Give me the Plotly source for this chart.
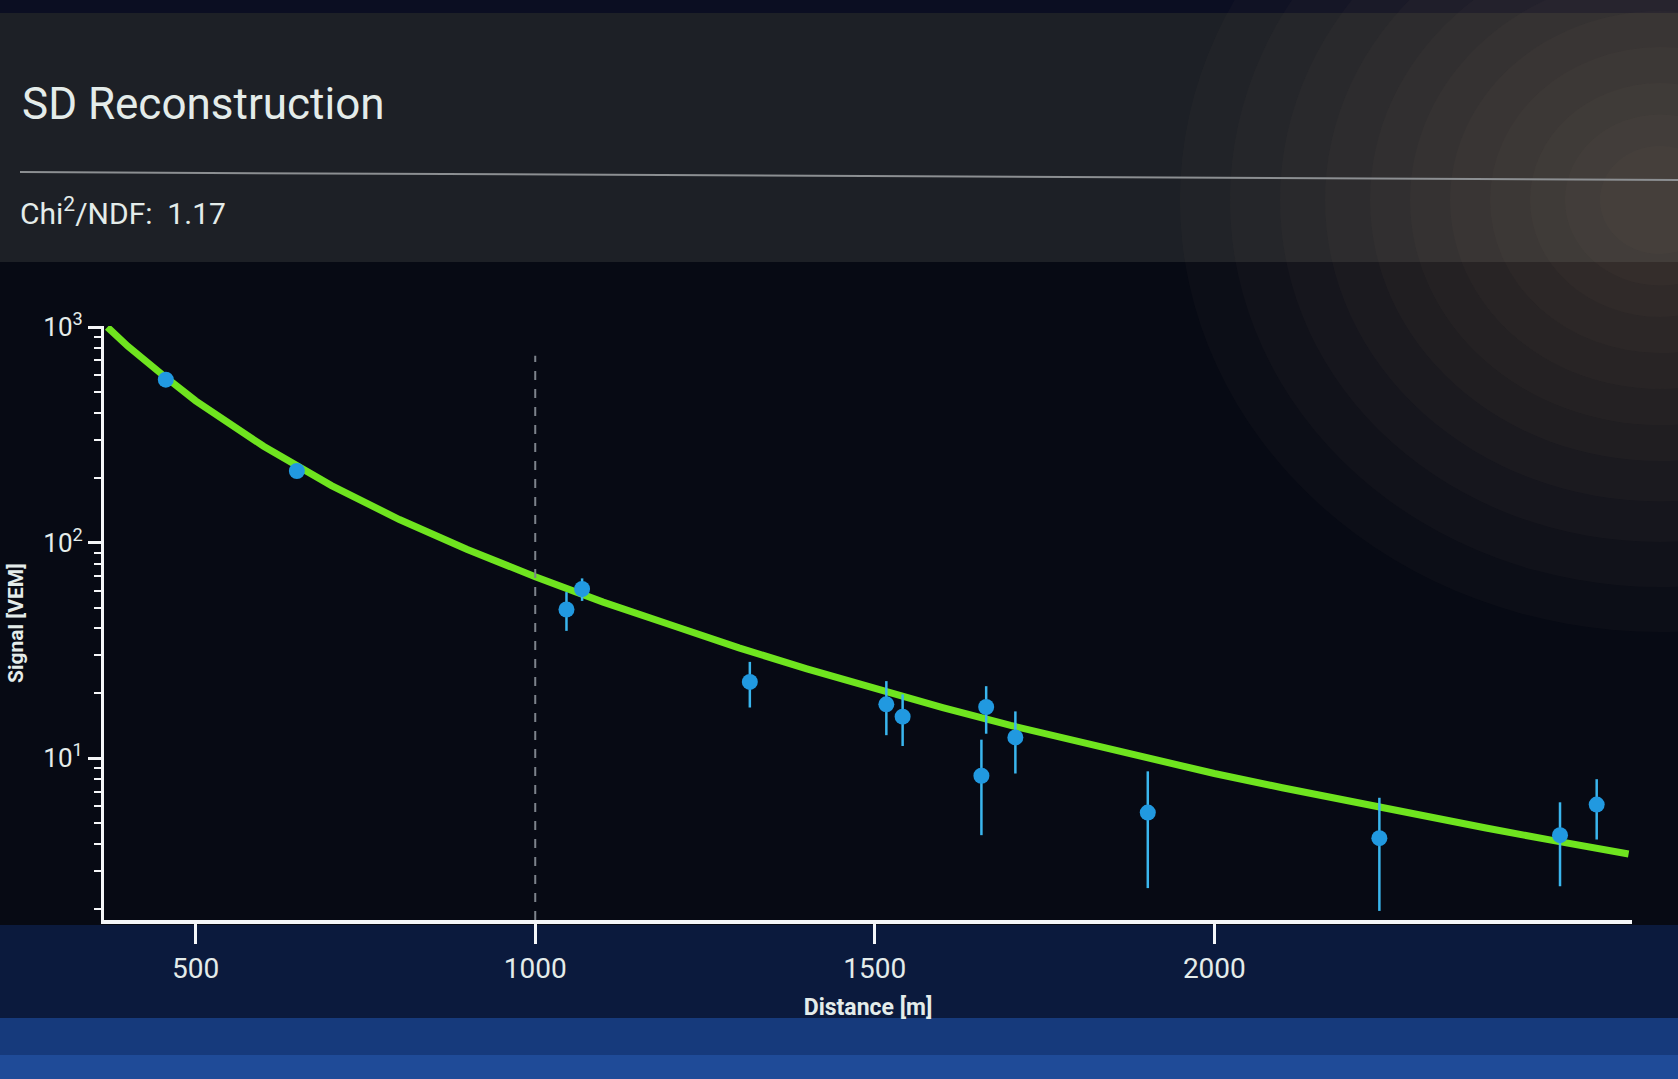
import plotly.graph_objects as go

# ---- data ----
distance = [456, 649, 1046, 1069, 1316, 1517, 1541, 1657, 1664, 1707, 1902, 2243, 2509, 2563]
signal = [570, 215, 49, 61, 22.6, 17.8, 15.6, 8.3, 17.3, 12.5, 5.6, 4.26, 4.4, 6.1]
signal_err = [40, 15, 10, 7.3, 5.4, 5.0, 4.2, 3.9, 4.3, 4.0, 3.1, 2.3, 1.85, 1.9]

fit_distance = [370, 400, 450, 500, 600, 700, 800, 900, 1000, 1100, 1200, 1300, 1400,
                1500, 1600, 1700, 1800, 1900, 2000, 2100, 2200, 2300, 2400, 2500, 2610]
fit_signal = [1000, 815, 605, 455, 280, 184, 128, 93, 69.5, 53, 41.5, 32.5, 26,
              21, 17.2, 14.2, 11.9, 10.0, 8.5, 7.3, 6.3, 5.45, 4.75, 4.15, 3.6]

x_ticks = [500, 1000, 1500, 2000]
y_ticks = [10, 100, 1000]
y_tick_text = ["10<sup>1</sup>", "10<sup>2</sup>", "10<sup>3</sup>"]
ref_distance = 1000

FONT = "Roboto, 'Liberation Sans', sans-serif"
TXT = "#e4ecea"

# geometry of the plot area (pixels)
W, H = 1678, 1079
L, R, T, B = 104, 46, 326, 159
PW, PH = W - L - R, H - T - B


def px(X):
    return (X - L) / PW


def py(Y):
    return (H - B - Y) / PH


fig = go.Figure()

fig.add_trace(go.Scatter(
    x=fit_distance, y=fit_signal, mode="lines",
    line=dict(color="#6fe41f", width=7),
    hoverinfo="skip", showlegend=False,
))

fig.add_trace(go.Scatter(
    x=distance, y=signal, mode="markers",
    marker=dict(color="#2199e0", size=16, line=dict(width=0)),
    error_y=dict(type="data", array=signal_err, visible=True,
                 color="#3ab6ee", thickness=2.5, width=0),
    showlegend=False,
))

shapes = [
    # top strip
    dict(type="rect", xref="paper", yref="paper", x0=px(0), x1=px(W), y0=py(13), y1=py(0),
         fillcolor="#0b0e22", line=dict(width=0), layer="below"),
    # dark chart panel
    dict(type="rect", xref="paper", yref="paper", x0=px(0), x1=px(W), y0=py(H), y1=py(262),
         fillcolor="#070a14", line=dict(width=0), layer="below"),
    # navy area under the axis
    dict(type="rect", xref="paper", yref="paper", x0=px(0), x1=px(W), y0=py(H), y1=py(925),
         fillcolor="#0b1a3d", line=dict(width=0), layer="below"),
    dict(type="rect", xref="paper", yref="paper", x0=px(0), x1=px(W), y0=py(H), y1=py(1018),
         fillcolor="#163a7c", line=dict(width=0), layer="below"),
    dict(type="rect", xref="paper", yref="paper", x0=px(0), x1=px(W), y0=py(H), y1=py(1055),
         fillcolor="#1f4b98", line=dict(width=0), layer="below"),
    # separator rule
    dict(type="line", xref="paper", yref="paper", x0=px(20), x1=px(W), y0=py(172), y1=py(180),
         line=dict(color="#8c8f92", width=2)),
    # reference distance dashed line
    dict(type="line", xref="x", yref="y domain", x0=ref_distance, x1=ref_distance, y0=0, y1=0.95,
         line=dict(color="#7d838c", width=2, dash="dash")),
]
# soft warm glow top right (photo reflection)
cx, cy = 1660, 200
for r in [480, 430, 380, 335, 290, 250, 210, 170, 130, 95, 60]:
    shapes.append(dict(type="circle", xref="paper", yref="paper",
                       x0=px(cx - r), x1=px(cx + r), y0=py(cy + r * 0.9), y1=py(cy - r * 0.9),
                       fillcolor="#9c8678", opacity=0.035, line=dict(width=0), layer="below"))

annotations = [
    dict(text="SD Reconstruction", xref="paper", yref="paper", x=px(20), y=py(104),
         xanchor="left", yanchor="middle", showarrow=False,
         font=dict(family=FONT, size=44, color=TXT)),
    dict(text="Chi<sup>2</sup>/NDF:&nbsp;&nbsp;1.17", xref="paper", yref="paper", x=px(18), y=py(211),
         xanchor="left", yanchor="middle", showarrow=False,
         font=dict(family=FONT, size=30, color=TXT)),
]

fig.update_layout(
    width=W, height=H,
    margin=dict(l=L, r=R, t=T, b=B, autoexpand=False),
    paper_bgcolor="#1d2026",
    plot_bgcolor="rgba(0,0,0,0)",
    shapes=shapes,
    annotations=annotations,
    font=dict(family=FONT, color=TXT),
    showlegend=False,
)

fig.update_xaxes(
    range=[365, 2615], showgrid=False, zeroline=False, automargin=False,
    showline=True, linecolor="#f4f6f8", linewidth=4,
    ticks="outside", ticklen=20, tickwidth=3, tickcolor="#f4f6f8",
    tickvals=x_ticks, tickfont=dict(family=FONT, size=28, color=TXT),
    title=dict(text="<b>Distance [m]</b>", font=dict(family=FONT, size=23, color=TXT), standoff=16),
)

fig.update_yaxes(
    type="log", range=[0.25, 3.005], showgrid=False, zeroline=False, automargin=False,
    showline=True, linecolor="#f4f6f8", linewidth=3,
    ticks="outside", ticklen=13, tickwidth=3, tickcolor="#f4f6f8",
    tickvals=y_ticks, ticktext=y_tick_text,
    tickfont=dict(family=FONT, size=26, color=TXT),
    minor=dict(ticks="outside", ticklen=7, tickwidth=2, tickcolor="#f4f6f8", dtick="D1", showgrid=False),
    title=dict(text="<b>Signal [VEM]</b>", font=dict(family=FONT, size=21, color=TXT), standoff=14),
)

fig.write_html("out.html", config={"displayModeBar": False},
               post_script="document.body.style.margin='0';")
